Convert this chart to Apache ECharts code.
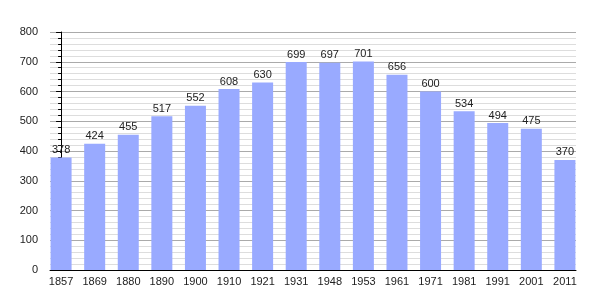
<!DOCTYPE html>
<html><head><meta charset="utf-8">
<script src="https://cdn.jsdelivr.net/npm/echarts@6/dist/echarts.min.js"></script>
<style>html,body{margin:0;padding:0;background:#fff}#c{width:605px;height:300px}</style>
</head><body><div id="c"></div>
<script>
const years = ['1857','1869','1880','1890','1900','1910','1921','1931','1948','1953','1961','1971','1981','1991','2001','2011'];
const population = [378,424,455,517,552,608,630,699,697,701,656,600,534,494,475,370];
const yTicks = {min:0, max:800, interval:100};

const idx = years.map((_, i) => i);
const chart = echarts.init(document.getElementById('c'), null, {renderer:'canvas'});
chart.setOption({
  animation:false,
  grid:{left:50, right:29, top:32, bottom:30, containLabel:false},
  xAxis:{
    type:'value', min:-0.33, max:years.length - 1 + 0.33,
    axisLine:{show:true, onZero:false, lineStyle:{color:'#000', width:1}},
    axisTick:{show:false},
    axisLabel:{customValues:idx, formatter:v => years[Math.round(v)] || '', color:'#222', fontFamily:'Liberation Sans, Arial, sans-serif', fontSize:11, margin:6},
    splitLine:{show:false}
  },
  yAxis:{
    type:'value', min:yTicks.min, max:yTicks.max, interval:yTicks.interval,
    axisLine:{show:true, lineStyle:{color:'#000', width:1}},
    axisTick:{show:true, length:5, lineStyle:{color:'#000'}},
    minorTick:{show:true, splitNumber:5, length:3, lineStyle:{color:'#000'}},
    axisLabel:{color:'#222', fontFamily:'Liberation Sans, Arial, sans-serif', fontSize:11, margin:12},
    splitLine:{show:true, lineStyle:{color:'#aaaaaa', width:1}},
    minorSplitLine:{show:true, lineStyle:{color:'#dddddd', width:1}}
  },
  series:[{
    type:'bar', data:population.map((v, i) => [idx[i], v]), barWidth:21,
    itemStyle:{color:'#99aaff'},
    label:{show:true, position:'top', distance:2, color:'#222', fontFamily:'Liberation Sans, Arial, sans-serif', fontSize:11,
      formatter:p => p.value[1]}
  }]
});
</script></body></html>
